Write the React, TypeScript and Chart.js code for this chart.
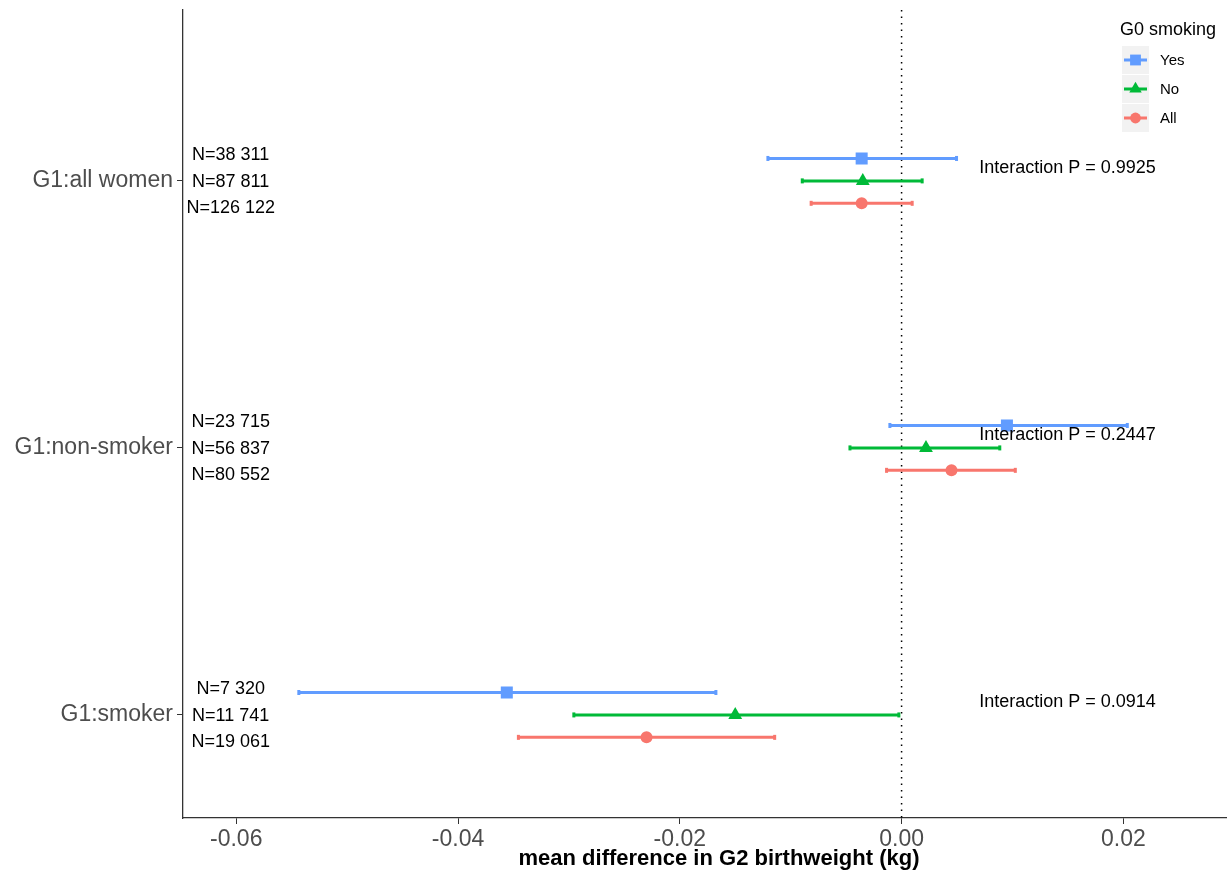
import React, { useEffect, useRef } from "react";
import { Chart, registerables } from "chart.js";

Chart.register(...registerables);

// ---- data ----
const groups = ["G1:all women", "G1:non-smoker", "G1:smoker"];
const seriesNames = ["Yes", "No", "All"];
const yesEst = [-0.0036, 0.0095, -0.0356];
const yesLow = [-0.0121, -0.0011, -0.0544];
const yesHigh = [0.005, 0.0204, -0.0167];
const noEst = [-0.0035, 0.0022, -0.015];
const noLow = [-0.009, -0.0047, -0.0296];
const noHigh = [0.0019, 0.0089, -0.0002];
const allEst = [-0.0036, 0.0045, -0.023];
const allLow = [-0.0082, -0.0014, -0.0346];
const allHigh = [0.001, 0.0103, -0.0114];
const nYes = ["N=38 311", "N=23 715", "N=7 320"];
const nNo = ["N=87 811", "N=56 837", "N=11 741"];
const nAll = ["N=126 122", "N=80 552", "N=19 061"];
const interactionP = ["0.9925", "0.2447", "0.0914"];
const xTicks = [-0.06, -0.04, -0.02, 0, 0.02];
const xTitle = "mean difference in G2 birthweight (kg)";
const legendTitle = "G0 smoking";

// ---- styles ----
const FONT = "'Liberation Sans', Arial, sans-serif";
const COLORS = ["#619CFF", "#00BA38", "#F8766D"];
const DODGE = [0.084, 0, -0.084];
const LABEL_DODGE = [0.099, 0, -0.099];
const STYLES = ["rect", "triangle", "circle"];
const RADII = [8.5, 8, 6];
const N_LABEL_X = -0.0605;
const P_LABEL_X = 0.007;
const P_LABEL_DY = 0.052;

const est = [yesEst, noEst, allEst];
const low = [yesLow, noLow, allLow];
const high = [yesHigh, noHigh, allHigh];
const nLabels = [nYes, nNo, nAll];

const groupY = (i: number) => groups.length - i;

function drawMarker(ctx: CanvasRenderingContext2D, style: string, x: number, y: number, r: number, color: string) {
  ctx.save();
  ctx.fillStyle = color;
  ctx.beginPath();
  if (style === "rect") {
    const s = Math.SQRT1_2 * r;
    ctx.rect(x - s, y - s, 2 * s, 2 * s);
  } else if (style === "triangle") {
    let a = 0;
    ctx.moveTo(x + Math.sin(a) * r, y - Math.cos(a) * r);
    a += (2 * Math.PI) / 3;
    ctx.lineTo(x + Math.sin(a) * r, y - Math.cos(a) * r);
    a += (2 * Math.PI) / 3;
    ctx.lineTo(x + Math.sin(a) * r, y - Math.cos(a) * r);
    ctx.closePath();
  } else {
    ctx.arc(x, y, r, 0, Math.PI * 2);
  }
  ctx.fill();
  ctx.restore();
}

const forestPlugin = {
  id: "forest",
  beforeDatasetsDraw(chart: any) {
    const ctx: CanvasRenderingContext2D = chart.ctx;
    const xs = chart.scales.x;
    const ys = chart.scales.y;
    const area = chart.chartArea;
    // zero reference line
    ctx.save();
    ctx.strokeStyle = "#000";
    ctx.lineWidth = 1.5;
    ctx.setLineDash([1.5, 5]);
    const x0 = xs.getPixelForValue(0);
    ctx.beginPath();
    ctx.moveTo(x0, area.top);
    ctx.lineTo(x0, area.bottom);
    ctx.stroke();
    ctx.restore();
    // error bars
    for (let s = 0; s < 3; s++) {
      for (let i = 0; i < groups.length; i++) {
        const y = ys.getPixelForValue(groupY(i) + DODGE[s]);
        const xl = xs.getPixelForValue(low[s][i]);
        const xh = xs.getPixelForValue(high[s][i]);
        ctx.save();
        ctx.strokeStyle = COLORS[s];
        ctx.lineWidth = 3;
        ctx.beginPath();
        ctx.moveTo(xl, y);
        ctx.lineTo(xh, y);
        ctx.stroke();
        ctx.fillStyle = COLORS[s];
        ctx.fillRect(xl - 1, y - 2.5, 3, 5);
        ctx.fillRect(xh - 2, y - 2.5, 3, 5);
        ctx.restore();
      }
    }
  },
  afterDraw(chart: any) {
    const ctx: CanvasRenderingContext2D = chart.ctx;
    const xs = chart.scales.x;
    const ys = chart.scales.y;
    ctx.save();
    ctx.fillStyle = "#000";
    ctx.textBaseline = "middle";
    ctx.font = `18px ${FONT}`;
    for (let i = 0; i < groups.length; i++) {
      ctx.textAlign = "center";
      for (let s = 0; s < 3; s++) {
        ctx.fillText(
          nLabels[s][i],
          xs.getPixelForValue(N_LABEL_X),
          ys.getPixelForValue(groupY(i) + LABEL_DODGE[s]) + 1
        );
      }
      ctx.textAlign = "left";
      ctx.fillText(
        "Interaction P = " + interactionP[i],
        xs.getPixelForValue(P_LABEL_X),
        ys.getPixelForValue(groupY(i) + P_LABEL_DY) + 1
      );
    }
    // x title
    ctx.font = `bold 22px ${FONT}`;
    ctx.textAlign = "center";
    ctx.fillText(xTitle, 719, 859);
    // legend
    ctx.font = `18px ${FONT}`;
    ctx.textAlign = "left";
    ctx.fillText(legendTitle, 1120, 30);
    ctx.font = `15px ${FONT}`;
    for (let s = 0; s < 3; s++) {
      const top = 46 + s * 29;
      const cy = top + 14;
      ctx.fillStyle = "#F2F2F2";
      ctx.fillRect(1122, top, 27, 28);
      ctx.strokeStyle = COLORS[s];
      ctx.lineWidth = 3;
      ctx.beginPath();
      ctx.moveTo(1124, cy);
      ctx.lineTo(1147, cy);
      ctx.stroke();
      drawMarker(ctx, STYLES[s], 1135.5, cy, RADII[s] * 0.9, COLORS[s]);
      ctx.fillStyle = "#000";
      ctx.fillText(seriesNames[s], 1160, cy + 1);
    }
    ctx.restore();
  },
};

const CANVAS_W = 1235;

export default function App() {
  const ref = useRef<HTMLCanvasElement | null>(null);
  useEffect(() => {
    if (!ref.current) return;
    const datasets = seriesNames.map((name, s) => ({
      label: name,
      data: groups.map((_, i) => ({ x: est[s][i], y: groupY(i) + DODGE[s] })),
      pointStyle: STYLES[s],
      pointRadius: RADII[s],
      pointHoverRadius: RADII[s],
      backgroundColor: COLORS[s],
      borderColor: COLORS[s],
      borderWidth: 0,
      showLine: false,
    }));
    const chart = new Chart(ref.current, {
      type: "scatter",
      data: { datasets } as any,
      options: {
        animation: false,
        responsive: false,
        layout: { padding: { top: 10, right: 0, left: 0, bottom: 0 } },
        plugins: { legend: { display: false }, tooltip: { enabled: false } },
        scales: {
          x: {
            type: "linear",
            min: -0.0648,
            max: 0.0293,
            afterBuildTicks: (scale: any) => {
              scale.ticks = xTicks.map((v) => ({ value: v }));
            },
            afterFit: (scale: any) => {
              scale.height = 58;
              scale.paddingLeft = 0;
              scale.paddingRight = 0;
            },
            ticks: {
              color: "#4D4D4D",
              font: { family: FONT, size: 23 },
              padding: 2,
              maxRotation: 0,
              callback: (v: any) => Number(v).toFixed(2),
            },
            grid: {
              display: true,
              drawOnChartArea: false,
              drawTicks: true,
              tickLength: 6,
              color: "#333",
              lineWidth: 1,
            },
            border: { display: true, color: "#333", width: 1.3 },
          },
          y: {
            type: "linear",
            min: 0.614,
            max: 3.64,
            afterBuildTicks: (scale: any) => {
              scale.ticks = groups.map((_, i) => ({ value: groupY(i) }));
            },
            afterFit: (scale: any) => {
              scale.width = 183;
              scale.paddingTop = 0;
              scale.paddingBottom = 0;
            },
            ticks: {
              color: "#4D4D4D",
              font: { family: FONT, size: 23 },
              padding: 4,
              callback: (v: any) => groups[groups.length - Number(v)],
            },
            grid: {
              display: true,
              drawOnChartArea: false,
              drawTicks: true,
              tickLength: 6,
              color: "#333",
              lineWidth: 1,
            },
            border: { display: true, color: "#333", width: 1.3 },
          },
        },
      } as any,
      plugins: [forestPlugin],
    });
    return () => chart.destroy();
  }, []);
  return (
    <div style={{ position: "absolute", left: 0, top: 0, width: 1227, height: 876, overflow: "hidden", background: "#fff" }}>
      <canvas ref={ref} width={CANVAS_W} height={876} style={{ width: CANVAS_W, height: 876, display: "block" }} />
    </div>
  );
}
